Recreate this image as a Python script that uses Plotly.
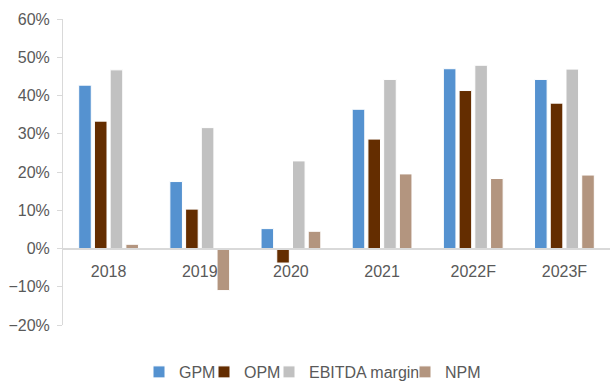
import plotly.graph_objects as go

# Margin ratios by year (%)
years = ["2018", "2019", "2020", "2021", "2022F", "2023F"]
gpm = [42.7, 17.5, 5.2, 36.4, 47.0, 44.2]
opm = [33.3, 10.3, -3.8, 28.6, 41.3, 38.0]
ebitda_margin = [46.7, 31.6, 22.9, 44.2, 47.9, 46.9]
npm = [1.1, -11.0, 4.5, 19.5, 18.3, 19.2]

series_names = ["GPM", "OPM", "EBITDA margin", "NPM"]
series_values = [gpm, opm, ebitda_margin, npm]
series_colors = ["#5592D0", "#642D00", "#C1C1C1", "#B3957F"]

W, H = 610, 381
ml, mr, mt, mb = 63, 0, 19, 56
y_min, y_max = -20, 60
text_color = "#595959"
font_size = 16

# one legend box per series so the entries sit at their own spots along the bottom
legend_left_px = [139, 204, 269, 405]
legend_ids = ["legend", "legend2", "legend3", "legend4"]

fig = go.Figure()
for name, vals, color, lid in zip(series_names, series_values, series_colors, legend_ids):
    fig.add_trace(go.Bar(
        x=years, y=vals, name=name, legend=lid,
        marker=dict(color=color, line=dict(color="white", width=1)),
    ))

legend_style = dict(
    xref="container", yref="container", xanchor="left",
    y=1 - 372 / H, yanchor="middle", bgcolor="rgba(0,0,0,0)",
    font=dict(size=font_size, color=text_color), itemwidth=30,
)
legends = {
    lid: dict(legend_style, x=px / W)
    for lid, px in zip(legend_ids, legend_left_px)
}

fig.update_layout(
    width=W, height=H,
    margin=dict(l=ml, r=mr, t=mt, b=mb, autoexpand=False),
    paper_bgcolor="white", plot_bgcolor="white",
    font=dict(family="Liberation Sans, Arial, sans-serif", size=font_size, color=text_color),
    barmode="group", bargap=0.31, bargroupgap=0.2,
    showlegend=True,
    xaxis=dict(
        anchor="free", position=(0 - y_min) / (y_max - y_min),
        showline=True, linecolor="#D9D9D9", linewidth=2,
        ticks="", showgrid=False, ticklabelstandoff=8,
        tickfont=dict(size=font_size, color=text_color),
    ),
    yaxis=dict(
        range=[y_min, y_max], dtick=10, ticksuffix="%",
        showgrid=False, zeroline=False,
        showline=True, linecolor="#D9D9D9", linewidth=1,
        ticks="outside", ticklen=5, tickcolor="#D9D9D9",
        ticklabelstandoff=4,
        tickfont=dict(size=font_size, color=text_color),
    ),
    **legends,
)

fig.write_html("out.html")
